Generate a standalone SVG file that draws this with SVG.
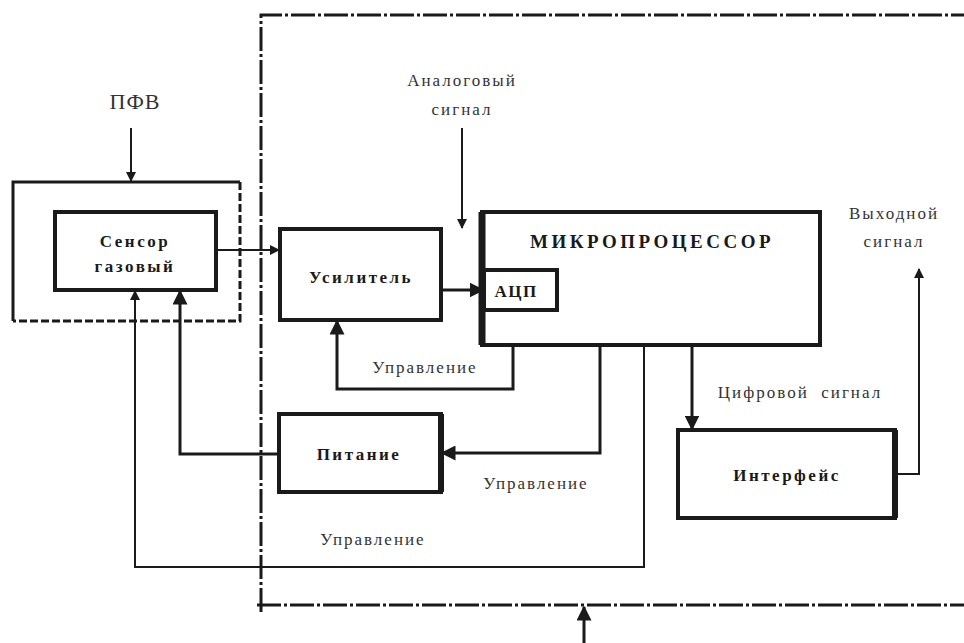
<svg xmlns="http://www.w3.org/2000/svg" width="964" height="643" viewBox="0 0 964 643">
<defs>
<style>
.box{fill:none;stroke:#1a1a1a;stroke-width:4}
.ln{fill:none;stroke:#1a1a1a;stroke-width:2}
.frame{fill:none;stroke:#1a1a1a;stroke-width:3;stroke-dasharray:24 3 3 3}
.dash{fill:none;stroke:#1a1a1a;stroke-width:3;stroke-dasharray:8 3}
.lbl{font-family:"Liberation Serif",serif;font-size:17px;font-weight:bold;fill:#1a1a1a;text-anchor:middle;letter-spacing:2.5px}
.txt{font-family:"Liberation Serif",serif;font-size:17px;fill:#333;text-anchor:middle;letter-spacing:2px}
</style>
<marker id="ah" viewBox="0 0 10 10" refX="9" refY="5" markerWidth="5" markerHeight="5" orient="auto" markerUnits="strokeWidth"><path d="M0,0 L10,5 L0,10 z" fill="#1a1a1a"/></marker>
</defs>
<rect width="964" height="643" fill="#fff"/>
<g id="frame">
<path class="frame" d="M261,612 L261,15 L964,15"/>
<path class="frame" d="M257,605 L964,605"/>
</g>
<g id="pfv-label"><text x="135" y="109" style="font-family:'Liberation Serif',serif;font-size:22px;fill:#333;text-anchor:middle;letter-spacing:1px">ПФВ</text></g>
<g id="sensor-outer">
<path d="M240,182 L13,182 L13,321" fill="none" stroke="#1a1a1a" stroke-width="3"/>
<path class="dash" d="M240,182 L240,321 L13,321"/>
</g>
<g id="sensor">
<rect class="box" x="55" y="212" width="161" height="78"/>
<text class="lbl" x="135" y="247">Сенсор</text>
<text class="lbl" x="135" y="272">газовый</text>
</g>
<g id="amplifier">
<rect class="box" x="280" y="229" width="161" height="91"/>
<text class="lbl" x="361" y="283">Усилитель</text>
</g>
<g id="mcu">
<rect class="box" x="482" y="212" width="338" height="133"/>
<line x1="482" y1="212" x2="482" y2="345" stroke="#1a1a1a" stroke-width="7"/>
<text class="lbl" x="652" y="248" style="font-size:19px;letter-spacing:3.5px">МИКРОПРОЦЕССОР</text>
</g>
<g id="adc">
<rect class="box" x="484" y="270" width="73" height="40"/>
<text class="lbl" x="516" y="297" style="letter-spacing:1.5px">АЦП</text>
</g>
<g id="power">
<rect class="box" x="279" y="414" width="162" height="78"/>
<line x1="441" y1="414" x2="441" y2="492" stroke="#1a1a1a" stroke-width="6"/>
<text class="lbl" x="359" y="460">Питание</text>
</g>
<g id="interface">
<rect class="box" x="678" y="430" width="217" height="88"/>
<line x1="895" y1="430" x2="895" y2="518" stroke="#1a1a1a" stroke-width="6"/>
<text class="lbl" x="787" y="481">Интерфейс</text>
</g>
<g id="labels">
<text class="txt" x="462" y="86">Аналоговый</text>
<text class="txt" x="462" y="115">сигнал</text>
<text class="txt" x="894" y="219">Выходной</text>
<text class="txt" x="894" y="247">сигнал</text>
<text class="txt" x="800" y="398" xml:space="preserve">Цифровой  сигнал</text>
<text class="txt" x="425" y="373">Управление</text>
<text class="txt" x="536" y="489">Управление</text>
<text class="txt" x="373" y="545">Управление</text>
</g>
<g id="connectors">
<path class="ln" d="M131,128 L131,181" marker-end="url(#ah)"/>
<path class="ln" d="M462,128 L462,228" marker-end="url(#ah)"/>
<path class="ln" d="M217,250 L279,250" marker-end="url(#ah)"/>
<path class="ln" style="stroke-width:3" d="M443,290 L483,290" marker-end="url(#ah)"/>
<path class="ln" style="stroke-width:3" d="M692,347 L692,429" marker-end="url(#ah)"/>
<path class="ln" d="M897,474 L919,474 L919,269" marker-end="url(#ah)"/>
<path class="ln" style="stroke-width:3" d="M513,347 L513,389 L337,389 L337,321" marker-end="url(#ah)"/>
<path class="ln" style="stroke-width:3" d="M600,347 L600,453 L442,453" marker-end="url(#ah)"/>
<path class="ln" style="stroke-width:3" d="M278,454 L180,454 L180,291" marker-end="url(#ah)"/>
<path class="ln" d="M644,347 L644,567 L135,567 L135,291" marker-end="url(#ah)"/>
<path class="ln" style="stroke-width:3" d="M584,643 L584,607" marker-end="url(#ah)"/>
</g>
</svg>
